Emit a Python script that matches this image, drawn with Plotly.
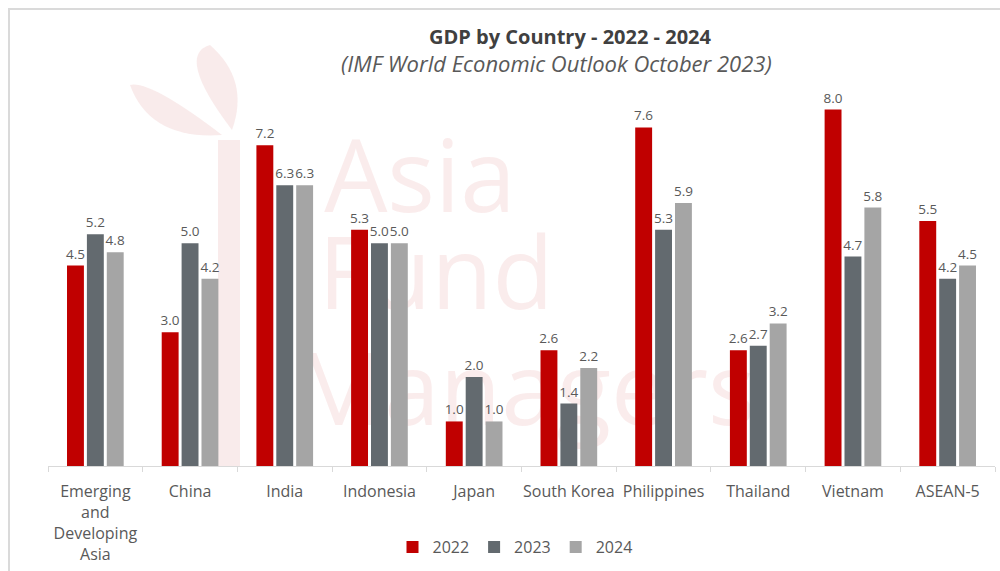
import plotly.graph_objects as go

categories = ["Emerging<br>and<br>Developing<br>Asia", "China", "India", "Indonesia", "Japan",
              "South Korea", "Philippines", "Thailand", "Vietnam", "ASEAN-5"]
gdp_2022 = [4.5, 3.0, 7.2, 5.3, 1.0, 2.6, 7.6, 2.6, 8.0, 5.5]
gdp_2023 = [5.2, 5.0, 6.3, 5.0, 2.0, 1.4, 5.3, 2.7, 4.7, 4.2]
gdp_2024 = [4.8, 4.2, 6.3, 5.0, 1.0, 2.2, 5.9, 3.2, 5.8, 4.5]

series = [("2022", gdp_2022, "#C00000"), ("2023", gdp_2023, "#636A6F"), ("2024", gdp_2024, "#A5A5A5")]

W, H = 1000, 571
ML, MR, MT, MB = 48, 5, 65, 105
PW, PH = W - ML - MR, H - MT - MB

def px(x):
    return (x - ML) / PW

def py(y):
    return (H - MB - y) / PH

fig = go.Figure()
for name, vals, col in series:
    fig.add_trace(go.Bar(
        name=name, x=categories, y=vals, marker=dict(color=col, line=dict(width=0)),
        text=[f"{v:.1f}" for v in vals], textposition="outside", cliponaxis=False,
        constraintext="none",
        textfont=dict(family="Open Sans", size=13.5, color="#595959"),
    ))

shapes = []
# outer frame (only top/left visible in the crop)
shapes.append(dict(type="line", xref="paper", yref="paper", x0=px(8), x1=px(1000), y0=py(9), y1=py(9),
                   line=dict(color="#DADADA", width=2), layer="below"))
shapes.append(dict(type="line", xref="paper", yref="paper", x0=px(9), x1=px(9), y0=py(8), y1=py(571),
                   line=dict(color="#DADADA", width=2), layer="below"))
# watermark bamboo stalk and leaves
wm = "rgba(235,190,190,0.3)"
shapes.append(dict(type="rect", xref="paper", yref="paper", x0=px(218), x1=px(240), y0=py(466), y1=py(140),
                   line=dict(width=0), fillcolor=wm, layer="below"))
shapes.append(dict(type="path", xref="paper", yref="paper",
                   path=f"M {px(232)},{py(130)} Q {px(175)},{py(55)} {px(210)},{py(45)} Q {px(250)},{py(80)} {px(232)},{py(130)} Z",
                   line=dict(width=0), fillcolor=wm, layer="below"))
shapes.append(dict(type="path", xref="paper", yref="paper",
                   path=f"M {px(222)},{py(135)} Q {px(150)},{py(80)} {px(130)},{py(85)} Q {px(150)},{py(140)} {px(222)},{py(135)} Z",
                   line=dict(width=0), fillcolor=wm, layer="below"))
# watermark words
for word, cx, cy in [("Asia", 420, 180), ("Fund", 436, 277), ("Managers", 525, 393)]:
    shapes.append(dict(type="rect", xref="paper", yref="paper", x0=px(cx - 50), x1=px(cx + 50),
                       y0=py(cy + 40), y1=py(cy - 40), line=dict(width=0), fillcolor="rgba(0,0,0,0)",
                       layer="below",
                       label=dict(text=word, textposition="middle center",
                                  font=dict(family="Open Sans", size=100, color="rgba(230,170,170,0.22)"))))

fig.update_layout(
    width=W, height=H,
    margin=dict(l=ML, r=MR, t=MT, b=MB, autoexpand=False),
    paper_bgcolor="white", plot_bgcolor="rgba(0,0,0,0)",
    barmode="group", bargap=0.37, bargroupgap=0.15,
    font=dict(family="Open Sans", color="#595959"),
    showlegend=True,
    legend=dict(orientation="h", x=px(515), xanchor="center", y=py(547), yanchor="middle",
                font=dict(size=16, color="#595959"), itemwidth=30, traceorder="normal"),
    xaxis=dict(showline=True, linecolor="#D9D9D9", linewidth=1, ticks="outside", tickson="boundaries",
               ticklen=5, tickcolor="#D9D9D9", tickfont=dict(size=16, color="#595959"), showgrid=False,
               tickangle=0, automargin=False, ticklabelstandoff=11),
    yaxis=dict(range=[0, 9], visible=False, showgrid=False, zeroline=False, automargin=False),
    shapes=shapes,
    annotations=[
        dict(text="<b>GDP by Country - 2022 - 2024</b>", xref="paper", yref="paper", x=px(570), y=py(37),
             xanchor="center", yanchor="middle", showarrow=False,
             font=dict(family="Open Sans", size=20, color="#404040")),
        dict(text="<i>(IMF World Economic Outlook October 2023)</i>", xref="paper", yref="paper",
             x=px(556), y=py(63), xanchor="center", yanchor="middle", showarrow=False,
             font=dict(family="Open Sans", size=22, color="#595959")),
    ],
)

fig.write_html("out.html")
